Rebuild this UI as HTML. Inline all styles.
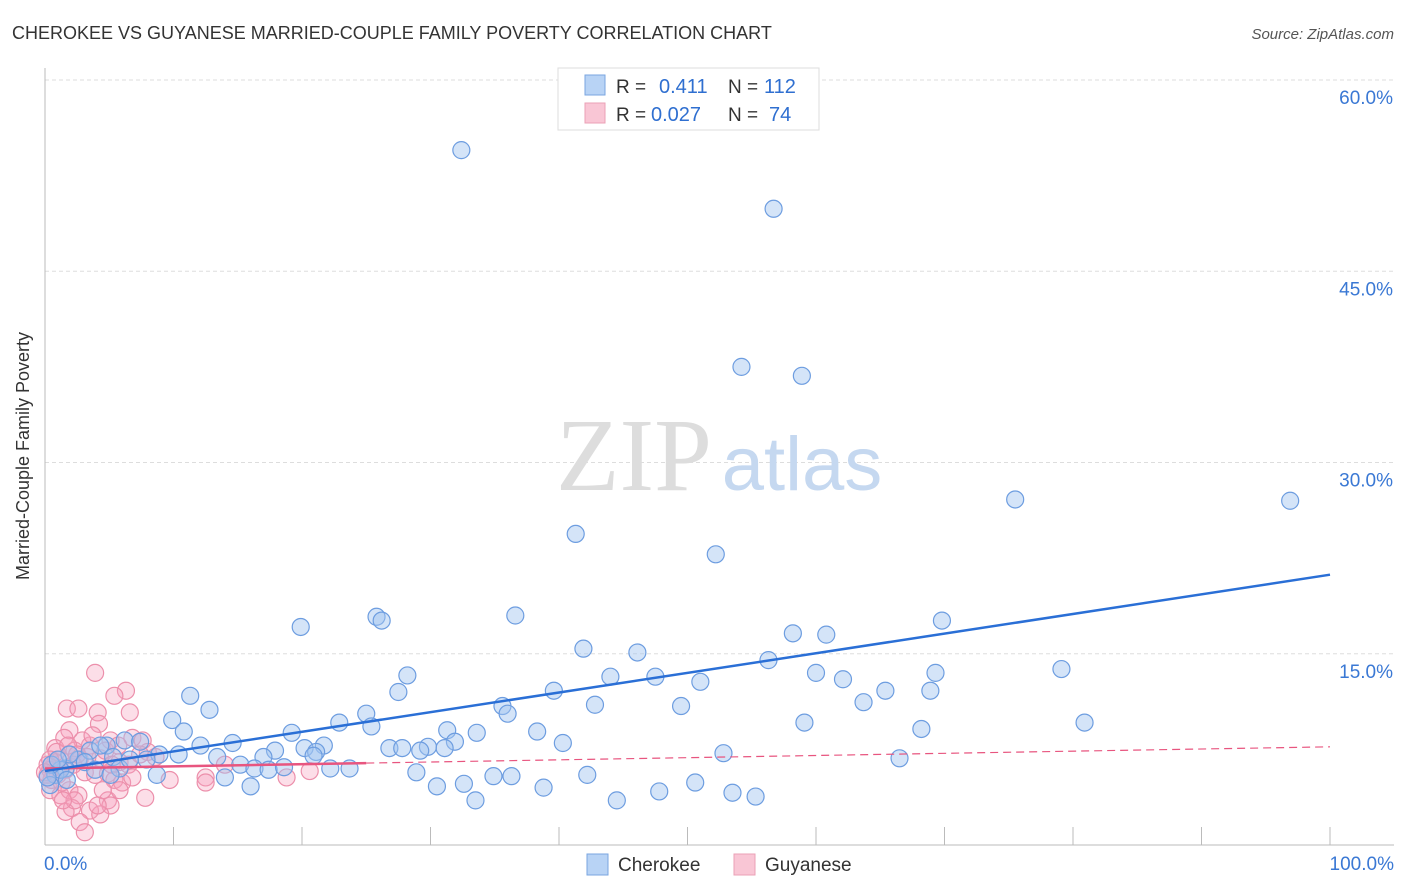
<!DOCTYPE html>
<html><head><meta charset="utf-8">
<style>
body{margin:0;background:#fff;font-family:"Liberation Sans",sans-serif;}
#wrap{position:relative;width:1406px;height:892px;overflow:hidden;}
</style></head>
<body>
<div id="wrap">
<svg id="svg" width="1406" height="892" xmlns="http://www.w3.org/2000/svg">
<text x="12" y="39" font-size="18" fill="#333">CHEROKEE VS GUYANESE MARRIED-COUPLE FAMILY POVERTY CORRELATION CHART</text>
<text x="1394" y="39" font-size="15" fill="#555" font-style="italic" text-anchor="end">Source: ZipAtlas.com</text>
<g id="grid"></g>
<g>
<text x="634" y="490" font-size="104" font-family="Liberation Serif,serif" fill="#ddd" text-anchor="middle">ZIP</text>
<text x="802" y="490" font-size="76" fill="#c5d8f0" text-anchor="middle">atlas</text>
</g>
<g id="axes"></g>
<g id="pts"></g>
<g id="trend"></g>
<text x="29" y="456" font-size="18" fill="#333" text-anchor="middle" transform="rotate(-90 29 456)">Married-Couple Family Poverty</text>
<g>
<rect x="558" y="68" width="261" height="62" fill="#fff" stroke="#ddd"/>
<rect x="585" y="75" width="20" height="20" fill="#b8d3f5" stroke="#7aa6e0"/>
<rect x="585" y="103" width="20" height="20" fill="#f9c6d5" stroke="#eba0b6"/>
<text x="616" y="93" font-size="19" fill="#333">R =</text>
<text x="659" y="93" font-size="20" fill="#2f6fd0">0.411</text>
<text x="728" y="93" font-size="19" fill="#333">N =</text>
<text x="764" y="93" font-size="20" fill="#2f6fd0">112</text>
<text x="616" y="121" font-size="19" fill="#333">R =</text>
<text x="651" y="121" font-size="20" fill="#2f6fd0">0.027</text>
<text x="728" y="121" font-size="19" fill="#333">N =</text>
<text x="769" y="121" font-size="20" fill="#2f6fd0">74</text>
</g>
<g>
<rect x="587" y="854" width="21" height="21" fill="#b8d3f5" stroke="#7aa6e0"/>
<text x="618" y="871" font-size="19" fill="#333">Cherokee</text>
<rect x="734" y="854" width="21" height="21" fill="#f9c6d5" stroke="#eba0b6"/>
<text x="765" y="871" font-size="19" fill="#333">Guyanese</text>
</g>
</svg>
</div>
<script>
const yTicks=[15,30,45,60];
const yTickLabels=["15.0%","30.0%","45.0%","60.0%"];
const xTickValues=[0,10,20,30,40,50,60,70,80,90,100];
const cherokeeX=[32.4,56.7,54.2,58.9,75.5,96.9,41.3,52.2,36.6,25.8,26.2,19.9,41.9,46.1,58.2,60.8,69.8,56.3,79.1,69.3,60.0,28.2,44.0,47.5,62.1,51.0,65.4,39.6,27.5,68.9,11.3,63.7,42.8,35.6,49.5,12.8,36.0,25.0,59.1,80.9,9.9,22.9,25.4,31.3,68.2,19.2,38.3,33.6,14.6,40.3,31.9,10.8,12.1,21.7,20.2,26.8,27.8,29.8,29.2,31.1,21.1,20.9,17.9,17.0,6.2,7.4,8.9,4.8,7.9,10.4,13.4,52.8,66.5,15.2,16.3,17.4,18.6,22.2,23.7,8.7,14.0,28.9,34.9,36.3,42.2,16.0,30.5,32.6,38.8,50.6,33.5,44.5,47.8,53.5,55.3,2.6,1.6,0.8,0.4,3.5,4.3,1.9,1.2,0.5,0.2,5.3,3.1,5.8,3.9,1.7,1.0,5.1,6.6];
const cherokeeY=[54.5,49.9,37.5,36.8,27.1,27.0,24.4,22.8,18.0,17.9,17.6,17.1,15.4,15.1,16.6,16.5,17.6,14.5,13.8,13.5,13.5,13.3,13.2,13.2,13.0,12.8,12.1,12.1,12.0,12.1,11.7,11.2,11.0,10.9,10.9,10.6,10.3,10.3,9.6,9.6,9.8,9.6,9.3,9.0,9.1,8.8,8.9,8.8,8.0,8.0,8.1,8.9,7.8,7.8,7.6,7.6,7.6,7.7,7.4,7.6,7.3,7.0,7.4,6.9,8.2,8.1,7.1,7.8,6.7,7.1,6.9,7.2,6.8,6.3,6.0,5.9,6.1,6.0,6.0,5.5,5.3,5.7,5.4,5.4,5.5,4.6,4.6,4.8,4.5,4.9,3.5,3.5,4.2,4.1,3.8,6.7,6.0,5.5,4.7,7.4,7.8,7.1,5.9,6.3,5.3,6.9,6.5,6.0,5.9,5.1,6.7,5.5,6.7];
const guyaneseX=[3.9,6.3,5.4,1.7,2.6,6.6,4.1,4.2,1.9,1.5,5.1,3.5,0.8,2.3,6.8,7.6,8.0,1.2,2.7,4.3,5.8,6.5,0.4,1.0,1.6,3.1,3.9,4.9,5.4,6.0,6.8,9.7,12.5,12.5,18.8,20.6,14.0,0.4,1.2,1.9,2.6,4.9,5.1,2.1,1.6,3.5,4.3,2.7,7.8,3.1,0.8,0.2,0.5,1.3,2.2,3.3,4.7,5.7,7.4,8.6,2.9,3.7,5.2,0.2,0.9,1.8,2.5,4.5,4.1,2.3,1.4,0.4,0.0,5.8];
const guyaneseY=[13.5,12.1,11.7,10.7,10.7,10.4,10.4,9.5,9.0,8.4,8.2,7.8,7.6,7.4,8.4,8.2,7.3,6.7,6.7,6.8,6.5,6.3,5.9,5.5,5.9,5.7,5.5,5.6,5.1,4.9,5.3,5.1,5.3,4.9,5.3,5.8,6.3,4.3,3.9,4.3,3.9,3.5,3.1,2.9,2.6,2.7,2.4,1.8,3.7,1.0,6.5,6.3,5.1,4.9,6.3,6.9,7.4,7.8,7.1,6.9,8.2,8.6,6.3,5.5,7.3,7.8,7.1,4.3,3.1,3.5,3.5,6.7,5.7,4.3];
const cherokeeTrend=[5.8,21.2];
const guyaneseTrend=[6.0,7.7];
const guyaneseSolidEnd=25;

const X0=45,X1=1330,Y0=845,Ytop=80;
const sx=v=>X0+(X1-X0)*v/100;
const sy=v=>Y0-(Y0-Ytop)*v/60;
const NS="http://www.w3.org/2000/svg";
function mk(tag,attrs,parent){const e=document.createElementNS(NS,tag);for(const k in attrs)e.setAttribute(k,attrs[k]);parent.appendChild(e);return e;}
const grid=document.getElementById('grid'),axes=document.getElementById('axes'),pts=document.getElementById('pts'),trend=document.getElementById('trend');
yTicks.forEach((t,i)=>{
  const l=mk('line',{x1:X0,x2:1394,y1:sy(t),y2:sy(t),stroke:'#ddd','stroke-dasharray':'4,3'},grid);
  
  
  const tx=mk('text',{x:1393,y:sy(t)+24,'font-size':19,fill:'#3a78d4','text-anchor':'end'},axes);
  tx.textContent=yTickLabels[i];
  
  
});
const al=mk('line',{x1:X0,x2:X0,y1:68,y2:Y0,stroke:'#bbb'},axes);


const bl=mk('line',{x1:X0,x2:1394,y1:Y0,y2:Y0,stroke:'#bbb'},axes);


xTickValues.forEach(v=>{
  const t=mk('line',{x1:sx(v),x2:sx(v),y1:827,y2:Y0,stroke:'#bbb'},axes);
  
  
});
[[0,"0.0%","start",44],[100,"100.0%","end",1394]].forEach(a=>{
  const t=mk('text',{x:a[3],y:870,'font-size':19,fill:'#3a78d4','text-anchor':a[2]},axes);
  t.textContent=a[1];
  
  
});
guyaneseX.forEach((x,i)=>{
  const c=mk('circle',{cx:sx(x),cy:sy(guyaneseY[i]),r:8.5,fill:'rgba(245,160,190,0.35)',stroke:'#ec8fab','stroke-width':1.2},pts);
  
  
});
cherokeeX.forEach((x,i)=>{
  const c=mk('circle',{cx:sx(x),cy:sy(cherokeeY[i]),r:8.5,fill:'rgba(160,196,240,0.45)',stroke:'#6d9de0','stroke-width':1.2},pts);
  
  
});
const gy=x=>guyaneseTrend[0]+(guyaneseTrend[1]-guyaneseTrend[0])*x/100;
const g1=mk('line',{x1:sx(0),y1:sy(gy(0)),x2:sx(guyaneseSolidEnd),y2:sy(gy(guyaneseSolidEnd)),stroke:'#e8557f','stroke-width':2.5},trend);


const g2=mk('line',{x1:sx(guyaneseSolidEnd),y1:sy(gy(guyaneseSolidEnd)),x2:sx(100),y2:sy(gy(100)),stroke:'#e8557f','stroke-width':1.2,'stroke-dasharray':'8,5'},trend);


const c1=mk('line',{x1:sx(0),y1:sy(cherokeeTrend[0]),x2:sx(100),y2:sy(cherokeeTrend[1]),stroke:'#2a6fd6','stroke-width':2.5},trend);


</script>
</body></html>
